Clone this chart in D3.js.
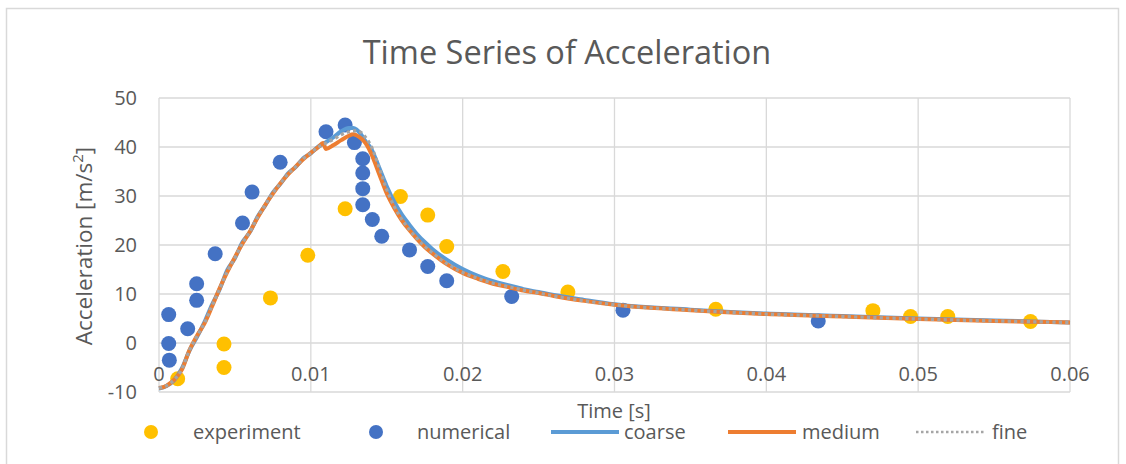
<!DOCTYPE html>
<html>
<head>
<meta charset="utf-8">
<script src="https://cdn.jsdelivr.net/npm/d3@7"></script>
<style>
  body { margin: 0; background: #fff; }
  text { font-family: "Open Sans", sans-serif; fill: #595959; }
</style>
</head>
<body>
<div class="chart"></div>
<script>
// experiment (yellow markers)
const expTime = [0.00123, 0.00428, 0.00428, 0.00734, 0.0098, 0.01226, 0.0159, 0.0177, 0.01895, 0.02265, 0.02693, 0.03667, 0.04702, 0.0495, 0.05195, 0.0574];
const expAcc  = [-7.3, -0.2, -5.0, 9.2, 17.9, 27.4, 29.9, 26.1, 19.7, 14.6, 10.4, 6.9, 6.6, 5.4, 5.4, 4.4];

// numerical (blue markers)
const numTime = [0.00064, 0.00064, 0.00068, 0.00189, 0.00248, 0.00248, 0.0037, 0.0055, 0.00613, 0.00798, 0.011, 0.01226, 0.01287, 0.01342, 0.01342, 0.01342, 0.01342, 0.01405, 0.01467, 0.0165, 0.0177, 0.01895, 0.02323, 0.03056, 0.04342];
const numAcc  = [5.8, -0.1, -3.5, 2.9, 8.7, 12.1, 18.2, 24.5, 30.8, 36.9, 43.1, 44.5, 40.9, 37.6, 34.7, 31.5, 28.2, 25.2, 21.8, 19.0, 15.6, 12.7, 9.5, 6.7, 4.5];

// simulation curves on a shared time grid
const simTime = [0, 0.0005, 0.001, 0.0015, 0.002, 0.0025, 0.003, 0.0035, 0.004, 0.0045, 0.005, 0.0055, 0.006, 0.0065, 0.007, 0.0075, 0.008, 0.0085, 0.009, 0.0095, 0.01, 0.0105, 0.0108, 0.011, 0.0115, 0.012, 0.0125, 0.0128, 0.013, 0.0133, 0.0136, 0.014, 0.0145, 0.015, 0.0155, 0.016, 0.0165, 0.017, 0.0175, 0.018, 0.019, 0.02, 0.021, 0.022, 0.023, 0.024, 0.025, 0.026, 0.028, 0.03, 0.035, 0.04, 0.045, 0.05, 0.055, 0.06];
const coarse = [-9.3, -8.8, -7.6, -5.2, -1.6, 1.2, 4.3, 7.9, 11.0, 14.9, 17.3, 20.6, 22.7, 25.8, 28.1, 30.7, 32.5, 34.6, 35.9, 37.7, 38.7, 40.1, 40.6, 41.0, 42.0, 43.2, 43.9, 43.9, 43.6, 42.6, 41.2, 39.5, 35.8, 32.0, 28.8, 26.2, 24.1, 22.2, 20.6, 19.2, 16.9, 15.1, 13.7, 12.6, 11.8, 11.0, 10.4, 9.8, 8.8, 7.9, 6.8, 6.0, 5.5, 5.0, 4.6, 4.2];
const medium = [-9.2, -8.7, -7.5, -5.5, -1.5, 1.5, 4.0, 7.5, 11.2, 14.5, 17.5, 20.3, 22.8, 25.6, 28.2, 30.5, 32.6, 34.4, 36.0, 37.5, 38.8, 40.0, 40.8, 39.6, 40.4, 41.4, 42.3, 42.6, 42.4, 41.8, 40.8, 38.5, 34.5, 30.5, 27.5, 25.0, 23.0, 21.2, 19.6, 18.3, 16.0, 14.3, 13.1, 12.1, 11.4, 10.7, 10.2, 9.6, 8.6, 7.8, 6.7, 5.9, 5.4, 4.9, 4.5, 4.2];
const fine   = [-9.2, -8.7, -7.5, -5.4, -1.5, 1.4, 4.1, 7.6, 11.1, 14.6, 17.4, 20.4, 22.8, 25.7, 28.2, 30.6, 32.6, 34.5, 36.0, 37.6, 38.8, 40.0, 40.5, 40.8, 41.6, 42.5, 43.1, 43.3, 43.3, 43.0, 42.0, 40.0, 35.8, 31.3, 27.8, 25.2, 23.1, 21.3, 19.7, 18.4, 16.1, 14.4, 13.2, 12.2, 11.5, 10.8, 10.2, 9.6, 8.6, 7.8, 6.7, 5.9, 5.4, 4.9, 4.5, 4.2];

const xTicks = [0, 0.01, 0.02, 0.03, 0.04, 0.05, 0.06];
const yTicks = [-10, 0, 10, 20, 30, 40, 50];

const colors = { experiment: "#FFC000", numerical: "#4472C4", coarse: "#5B9BD5", medium: "#ED7D31", fine: "#A5A5A5" };

const W = 1126, H = 464;
const margin = { top: 98, right: 56, bottom: 72, left: 159 };
const width = 1070 - margin.left;
const height = 392 - margin.top;

const svg = d3.select(".chart")
    .append("svg")
    .attr("width", W)
    .attr("height", H);

// chart area border
svg.append("rect")
    .attr("x", 6.5).attr("y", 8.5)
    .attr("width", 1112).attr("height", 470)
    .attr("fill", "none")
    .attr("stroke", "#D9D9D9")
    .attr("stroke-width", 1.5);

const g = svg.append("g")
    .attr("transform", `translate(${margin.left},${margin.top})`);

const x = d3.scaleLinear().domain([0, 0.06]).range([0, width]);
const y = d3.scaleLinear().domain([-10, 50]).range([height, 0]);

// gridlines
g.append("g")
    .selectAll("line")
    .data(yTicks)
    .join("line")
    .attr("x1", 0).attr("x2", width)
    .attr("y1", d => y(d)).attr("y2", d => y(d))
    .attr("stroke", "#D9D9D9")
    .attr("stroke-width", 1.3);

g.append("g")
    .selectAll("line")
    .data(xTicks)
    .join("line")
    .attr("x1", d => x(d)).attr("x2", d => x(d))
    .attr("y1", 0).attr("y2", height)
    .attr("stroke", "#D9D9D9")
    .attr("stroke-width", 1.3);

// y tick labels
g.append("g")
    .selectAll("text")
    .data(yTicks)
    .join("text")
    .attr("x", -22)
    .attr("y", d => y(d) + 7)
    .attr("text-anchor", "end")
    .style("font-size", "20px")
    .text(d => d);

// x tick labels sit under the y=0 line
g.append("g")
    .selectAll("text")
    .data(xTicks)
    .join("text")
    .attr("x", d => x(d))
    .attr("y", y(0) + 38)
    .attr("text-anchor", "middle")
    .style("font-size", "20px")
    .text(d => d);

// markers
g.append("g")
    .selectAll("circle")
    .data(expTime.map((t, i) => [t, expAcc[i]]))
    .join("circle")
    .attr("cx", d => x(d[0]))
    .attr("cy", d => y(d[1]))
    .attr("r", 7.5)
    .attr("fill", colors.experiment);

g.append("g")
    .selectAll("circle")
    .data(numTime.map((t, i) => [t, numAcc[i]]))
    .join("circle")
    .attr("cx", d => x(d[0]))
    .attr("cy", d => y(d[1]))
    .attr("r", 7.5)
    .attr("fill", colors.numerical);

// lines
const line = d3.line()
    .x(d => x(d[0]))
    .y(d => y(d[1]))
    .curve(d3.curveMonotoneX);

const series = [
    { name: "coarse", values: coarse, width: 4, dash: null },
    { name: "medium", values: medium, width: 4, dash: null },
    { name: "fine", values: fine, width: 3.2, dash: "3.2,3.2" }
];

series.forEach(s => {
    g.append("path")
        .datum(simTime.map((t, i) => [t, s.values[i]]))
        .attr("d", line)
        .attr("fill", "none")
        .attr("stroke", colors[s.name])
        .attr("stroke-width", s.width)
        .attr("stroke-dasharray", s.dash)
        .attr("stroke-linejoin", "round");
});

// title
svg.append("text")
    .attr("x", 567)
    .attr("y", 64)
    .attr("text-anchor", "middle")
    .style("font-size", "32.5px")
    .text("Time Series of Acceleration");

// axis titles
svg.append("text")
    .attr("transform", "translate(92,246) rotate(-90)")
    .attr("text-anchor", "middle")
    .style("font-size", "22.5px")
    .html("Acceleration [m/s<tspan dy='-9' font-size='15px'>2</tspan><tspan dy='9'>]</tspan>");

svg.append("text")
    .attr("x", 614)
    .attr("y", 418)
    .attr("text-anchor", "middle")
    .style("font-size", "20px")
    .text("Time [s]");

// legend
const legend = svg.append("g");
const ly = 432;
const legendItems = [
    { name: "experiment", kind: "dot", x0: 151, tx: 193 },
    { name: "numerical", kind: "dot", x0: 376, tx: 417 },
    { name: "coarse", kind: "line", x0: 551, tx: 624 },
    { name: "medium", kind: "line", x0: 728, tx: 802 },
    { name: "fine", kind: "dash", x0: 916, tx: 992 }
];
legendItems.forEach(it => {
    if (it.kind === "dot") {
        legend.append("circle")
            .attr("cx", it.x0).attr("cy", ly).attr("r", 7)
            .attr("fill", colors[it.name]);
    } else {
        legend.append("line")
            .attr("x1", it.x0).attr("x2", it.x0 + 68)
            .attr("y1", ly).attr("y2", ly)
            .attr("stroke", colors[it.name])
            .attr("stroke-width", it.kind === "dash" ? 2.5 : 4)
            .attr("stroke-dasharray", it.kind === "dash" ? "2.5,2.5" : null);
    }
    legend.append("text")
        .attr("x", it.tx).attr("y", ly + 7)
        .style("font-size", "20px")
        .text(it.name);
});
</script>
</body>
</html>
